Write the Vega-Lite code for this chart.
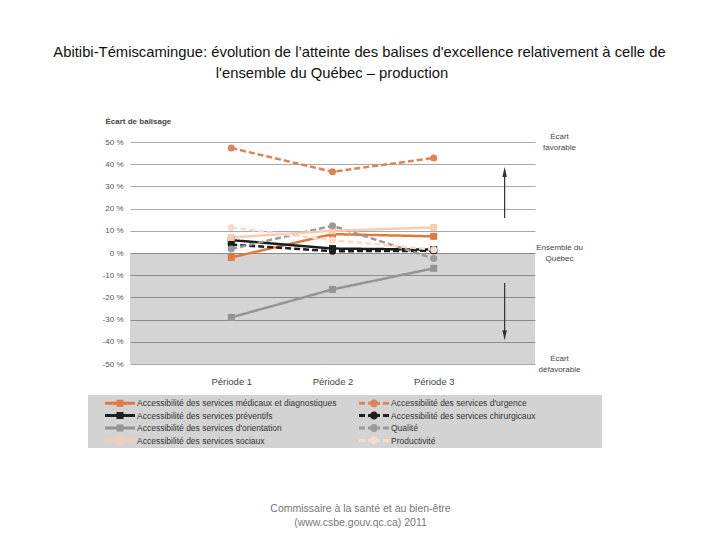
{
  "$schema": "https://vega.github.io/schema/vega-lite/v6.json",
  "width": 405,
  "height": 222,
  "autosize": {"type": "none"},
  "padding": {"left": 130, "top": 142, "right": 185, "bottom": 176},
  "background": "white",
  "config": {"view": {"stroke": null}, "font": "Liberation Sans"},
  "title": {
    "text": ["Abitibi-Témiscamingue: évolution de l’atteinte des balises d'excellence relativement à celle de", "l'ensemble du Québec – production\u2800\u2800\u2800\u2800\u2800"],
    "font": "Liberation Sans",
    "fontSize": 14.8,
    "fontWeight": "normal",
    "color": "#111111",
    "anchor": "middle",
    "frame": "group",
    "dx": 27,
    "offset": 36,
    "lineHeight": 21
  },
  "data": {
    "values": [
      {"period": 1, "series": "Accessibilité des services médicaux et diagnostiques", "v": -2},
      {"period": 2, "series": "Accessibilité des services médicaux et diagnostiques", "v": 8.5},
      {"period": 3, "series": "Accessibilité des services médicaux et diagnostiques", "v": 7.5},
      {"period": 1, "series": "Accessibilité des services d'urgence", "v": 47.3},
      {"period": 2, "series": "Accessibilité des services d'urgence", "v": 36.6},
      {"period": 3, "series": "Accessibilité des services d'urgence", "v": 42.8},
      {"period": 1, "series": "Accessibilité des services préventifs", "v": 5.8},
      {"period": 2, "series": "Accessibilité des services préventifs", "v": 2},
      {"period": 3, "series": "Accessibilité des services préventifs", "v": 1.5},
      {"period": 1, "series": "Accessibilité des services chirurgicaux", "v": 3.8},
      {"period": 2, "series": "Accessibilité des services chirurgicaux", "v": 0.8},
      {"period": 3, "series": "Accessibilité des services chirurgicaux", "v": 1},
      {"period": 1, "series": "Accessibilité des services d'orientation", "v": -29},
      {"period": 2, "series": "Accessibilité des services d'orientation", "v": -16.4},
      {"period": 3, "series": "Accessibilité des services d'orientation", "v": -6.9},
      {"period": 1, "series": "Qualité", "v": 1.8},
      {"period": 2, "series": "Qualité", "v": 12.3},
      {"period": 3, "series": "Qualité", "v": -2.5},
      {"period": 1, "series": "Accessibilité des services sociaux", "v": 7},
      {"period": 2, "series": "Accessibilité des services sociaux", "v": 10},
      {"period": 3, "series": "Accessibilité des services sociaux", "v": 11.5},
      {"period": 1, "series": "Productivité", "v": 11.5},
      {"period": 2, "series": "Productivité", "v": 5.8},
      {"period": 3, "series": "Productivité", "v": 1.5}
    ]
  },
  "resolve": {"axis": {"y": "independent"}},
  "layer": [
    {
      "transform": [{"filter": "datum.v > 1000"}],
      "mark": {"type": "point", "filled": true, "opacity": 1},
      "encoding": {
        "x": {"field": "period", "type": "quantitative", "scale": {"domain": [0.485, 3.515]}},
        "y": {"field": "v", "type": "quantitative", "scale": {"domain": [-50, 50]}, "axis": null},
        "color": {
          "field": "series", "type": "nominal",
          "scale": {
            "domain": ["Accessibilité des services médicaux et diagnostiques", "Accessibilité des services préventifs", "Accessibilité des services d'orientation", "Accessibilité des services sociaux", "Accessibilité des services d'urgence", "Accessibilité des services chirurgicaux", "Qualité", "Productivité"],
            "range": ["#e0783f", "#1e1e1e", "#949494", "#f6cdb3", "#dd8356", "#1e1e1e", "#9a9a9a", "#f8dccb"]
          },
          "legend": {"title": null, "orient": "none", "legendX": -42, "legendY": 253, "columns": 2, "fillColor": "#d3d3d3", "padding": 3, "labelFont": "Liberation Sans", "labelFontSize": 8.5, "labelColor": "#333333", "symbolSize": 100, "symbolStrokeWidth": 0, "labelOffset": 36, "rowPadding": 2.5, "columnPadding": -4, "labelLimit": 300, "symbolOpacity": 1}
        },
        "shape": {
          "field": "series", "type": "nominal",
          "scale": {
            "domain": ["Accessibilité des services médicaux et diagnostiques", "Accessibilité des services préventifs", "Accessibilité des services d'orientation", "Accessibilité des services sociaux", "Accessibilité des services d'urgence", "Accessibilité des services chirurgicaux", "Qualité", "Productivité"],
            "range": [
              "M-1,0Z M49.8,0Z M1.8,-0.3H7.8V0.3H1.8Z M4.1,-0.7H5.5V0.7H4.1Z",
              "M-1,0Z M49.8,0Z M1.8,-0.3H7.8V0.3H1.8Z M4.1,-0.7H5.5V0.7H4.1Z",
              "M-1,0Z M49.8,0Z M1.8,-0.3H7.8V0.3H1.8Z M4.1,-0.7H5.5V0.7H4.1Z",
              "M-1,0Z M49.8,0Z M1.8,-0.3H7.8V0.3H1.8Z M4.1,-0.7H5.5V0.7H4.1Z",
              "M-1,0Z M49.8,0Z M1.8,-0.3H3V0.3H1.8Z M3.6,-0.3H6V0.3H3.6Z M6.6,-0.3H7.8V0.3H6.6Z M5.6,0A0.8,0.8 0 1,1 4,0A0.8,0.8 0 1,1 5.6,0Z",
              "M-1,0Z M49.8,0Z M1.8,-0.3H3V0.3H1.8Z M3.6,-0.3H6V0.3H3.6Z M6.6,-0.3H7.8V0.3H6.6Z M5.6,0A0.8,0.8 0 1,1 4,0A0.8,0.8 0 1,1 5.6,0Z",
              "M-1,0Z M49.8,0Z M1.8,-0.3H3V0.3H1.8Z M3.6,-0.3H6V0.3H3.6Z M6.6,-0.3H7.8V0.3H6.6Z M5.6,0A0.8,0.8 0 1,1 4,0A0.8,0.8 0 1,1 5.6,0Z",
              "M-1,0Z M49.8,0Z M1.8,-0.3H3V0.3H1.8Z M3.6,-0.3H6V0.3H3.6Z M6.6,-0.3H7.8V0.3H6.6Z M5.6,0A0.8,0.8 0 1,1 4,0A0.8,0.8 0 1,1 5.6,0Z"
            ]
          },
          "legend": {"title": null, "orient": "none", "legendX": -42, "legendY": 253, "columns": 2, "fillColor": "#d3d3d3", "padding": 3, "labelFont": "Liberation Sans", "labelFontSize": 8.5, "labelColor": "#333333", "symbolSize": 100, "symbolStrokeWidth": 0, "labelOffset": 36, "rowPadding": 2.5, "columnPadding": -4, "labelLimit": 300, "symbolOpacity": 1}
        }
      }
    },
    {
      "data": {"values": [{}]},
      "mark": {"type": "rect", "color": "#000000", "opacity": 0.17},
      "encoding": {
        "y": {"datum": 0, "type": "quantitative", "axis": null},
        "y2": {"datum": -50}
      }
    },
    {
      "mark": {"type": "line", "strokeWidth": 2.5},
      "encoding": {
        "x": {
          "field": "period", "type": "quantitative", "scale": {"domain": [0.485, 3.515]},
          "axis": {
            "values": [1, 2, 3], "labelExpr": "'Période ' + datum.value", "grid": false, "domain": false, "ticks": false,
            "labelFlush": false, "labelPadding": 12, "labelFontSize": 9.5, "labelColor": "#444444",
            "title": ["Commissaire à la santé et au bien-être", "(www.csbe.gouv.qc.ca) 2011"],
            "titleX": 230, "titleY": 139, "titleAlign": "center", "titleBaseline": "top", "titleAnchor": null,
            "titleFontSize": 10.5, "titleFontWeight": "normal", "titleColor": "#777777", "titleLineHeight": 14
          }
        },
        "y": {
          "field": "v", "type": "quantitative", "scale": {"domain": [-50, 50]},
          "axis": {
            "values": [-50, -40, -30, -20, -10, 0, 10, 20, 30, 40, 50], "labelExpr": "datum.value + ' %'",
            "grid": true, "gridColor": "#a8a8a8", "gridWidth": 1, "domain": false, "ticks": false,
            "labelPadding": 7, "labelFontSize": 8, "labelColor": "#555555", "labelFlush": false, "labelOverlap": false,
            "title": "Écart de balisage", "titleAngle": 0, "titleX": -25, "titleY": -21, "titleAlign": "left", "titleBaseline": "middle",
            "titleFontSize": 8, "titleFontWeight": "bold", "titleColor": "#444444"
          }
        },
        "color": {"field": "series", "type": "nominal"},
        "strokeDash": {
          "field": "series", "type": "nominal", "legend": null,
          "scale": {
            "domain": ["Accessibilité des services médicaux et diagnostiques", "Accessibilité des services préventifs", "Accessibilité des services d'orientation", "Accessibilité des services sociaux", "Accessibilité des services d'urgence", "Accessibilité des services chirurgicaux", "Qualité", "Productivité"],
            "range": [[1, 0], [1, 0], [1, 0], [1, 0], [6, 3], [6, 3], [6, 3], [6, 3]]
          }
        }
      }
    },
    {
      "transform": [{"filter": {"field": "series", "oneOf": ["Accessibilité des services médicaux et diagnostiques", "Accessibilité des services préventifs", "Accessibilité des services d'orientation", "Accessibilité des services sociaux"]}}],
      "mark": {"type": "point", "shape": "square", "filled": true, "size": 49, "opacity": 1},
      "encoding": {
        "x": {"field": "period", "type": "quantitative"},
        "y": {"field": "v", "type": "quantitative", "axis": null},
        "color": {"field": "series", "type": "nominal"}
      }
    },
    {
      "transform": [{"filter": {"field": "series", "oneOf": ["Accessibilité des services d'urgence", "Accessibilité des services chirurgicaux", "Qualité", "Productivité"]}}],
      "mark": {"type": "point", "shape": "circle", "filled": true, "size": 50, "opacity": 1},
      "encoding": {
        "x": {"field": "period", "type": "quantitative"},
        "y": {
          "field": "v", "type": "quantitative",
          "axis": {
            "orient": "right", "values": [50, 0, -50],
            "labelExpr": "datum.value == 50 ? ['Écart', 'favorable'] : datum.value == 0 ? ['Ensemble du', 'Québec'] : ['Écart', 'défavorable']",
            "grid": false, "domain": false, "ticks": false, "labelAlign": "center", "labelBaseline": "middle", "labelPadding": 24, "labelOffset": -5.5,
            "labelFontSize": 8, "labelColor": "#444444", "labelLineHeight": 11, "labelFlush": false, "labelOverlap": false, "title": null
          }
        },
        "color": {"field": "series", "type": "nominal"}
      }
    },
    {
      "data": {"values": [{}]},
      "mark": {"type": "rule", "color": "#333333", "strokeWidth": 1.2},
      "encoding": {
        "x": {"datum": 3.7, "type": "quantitative"},
        "y": {"datum": 15.8, "type": "quantitative", "axis": null},
        "y2": {"datum": 35}
      }
    },
    {
      "data": {"values": [{}]},
      "mark": {"type": "rule", "color": "#333333", "strokeWidth": 1.2},
      "encoding": {
        "x": {"datum": 3.7, "type": "quantitative"},
        "y": {"datum": -13.5, "type": "quantitative", "axis": null},
        "y2": {"datum": -35.5}
      }
    },
    {
      "data": {"values": [{}]},
      "mark": {"type": "point", "shape": "M0,-1L0.45,1L-0.45,1Z", "filled": true, "size": 100, "color": "#333333", "opacity": 1},
      "encoding": {
        "x": {"datum": 3.7, "type": "quantitative"},
        "y": {"datum": 36.5, "type": "quantitative", "axis": null}
      }
    },
    {
      "data": {"values": [{}]},
      "mark": {"type": "point", "shape": "M0,1L0.45,-1L-0.45,-1Z", "filled": true, "size": 100, "color": "#333333", "opacity": 1},
      "encoding": {
        "x": {"datum": 3.7, "type": "quantitative"},
        "y": {"datum": -37, "type": "quantitative", "axis": null}
      }
    }
  ]
}
